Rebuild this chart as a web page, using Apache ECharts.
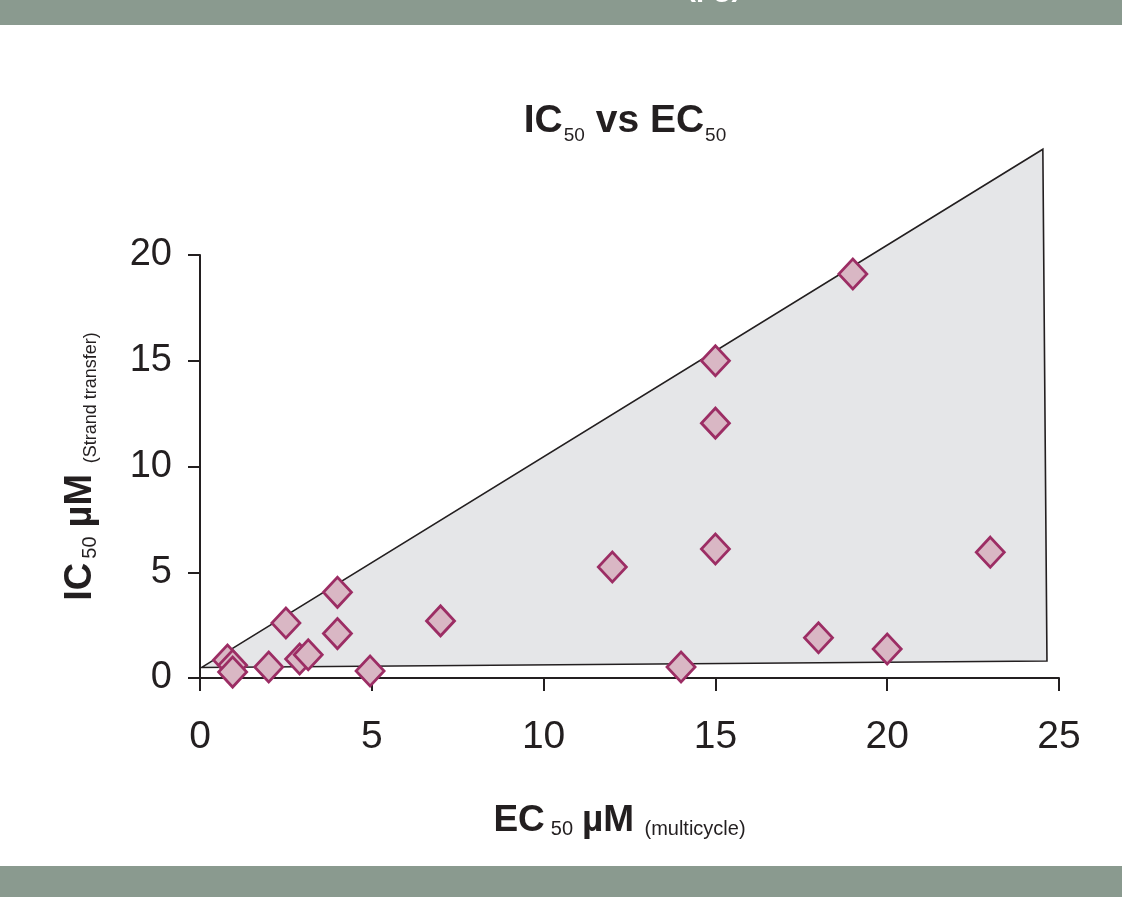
<!DOCTYPE html>
<html>
<head>
<meta charset="utf-8">
<style>
  html, body { margin: 0; padding: 0; background: #ffffff; }
  #chart { width: 1122px; height: 897px; }
</style>
<script src="https://cdn.jsdelivr.net/npm/echarts@6/dist/echarts.min.js"></script>
</head>
<body>
<div id="chart"></div>
<script>
// ---- data ----
const ec50 = [0.8, 0.95, 0.95, 2.0, 2.5, 2.9, 3.15, 4.0, 4.0, 4.95, 7.0, 12.0, 14.0, 15.0, 15.0, 15.0, 18.0, 19.0, 20.0, 23.0];
const ic50 = [0.85, 0.6, 0.28, 0.52, 2.6, 0.9, 1.1, 4.05, 2.1, 0.33, 2.7, 5.25, 0.52, 15.0, 12.05, 6.1, 1.9, 19.1, 1.37, 5.95];
const regionX = [0.05, 24.53, 24.65, 0.05];
const regionY = [0.5, 25.0, 0.8, 0.5];
const xTicks = [0, 5, 10, 15, 20, 25];
const yTicks = [0, 5, 10, 15, 20];

const font = '"Liberation Sans", Arial, Helvetica, sans-serif';
const points = ec50.map((x, i) => [x, ic50[i]]);

const chart = echarts.init(document.getElementById('chart'), null, { renderer: 'canvas' });
chart.setOption({
  backgroundColor: '#ffffff',
  animation: false,
  title: {
    text: '{a|IC}{s|50}{a| vs EC}{s|50}',
    left: 620,
    textAlign: 'center',
    top: 92,
    textStyle: {
      rich: {
        a: { fontFamily: font, fontSize: 39, fontWeight: 'bold', color: '#231f20', lineHeight: 44, verticalAlign: 'bottom' },
        s: { fontFamily: font, fontSize: 19, fontWeight: 'normal', color: '#231f20', lineHeight: 6, verticalAlign: 'bottom', padding: [0, 0, -4, 1] }
      }
    }
  },
  graphic: [
    { type: 'rect', left: 0, top: 0, shape: { x: 0, y: 0, width: 1122, height: 25 }, style: { fill: '#8a9a8f' }, z: 100 },
    { type: 'rect', left: 0, top: 866, shape: { x: 0, y: 0, width: 1122, height: 31 }, style: { fill: '#8a9a8f' }, z: 100 },
    { type: 'text', x: 686, y: -27, style: { text: '(µg)', fill: '#ffffff', font: 'bold 30px ' + font }, z: 101 }
  ],
  grid: { left: 200, right: 63, top: 255, bottom: 219, containLabel: false },
  xAxis: {
    type: 'value', min: 0, max: 25, interval: 5,
    name: '{a|EC}{n|50}{a|µM }{t|(multicycle)}',
    nameLocation: 'middle', nameGap: 117,
    nameTextStyle: {
      rich: {
        a: { fontFamily: font, fontSize: 37, fontWeight: 'bold', color: '#231f20', verticalAlign: 'bottom', lineHeight: 44 },
        n: { fontFamily: font, fontSize: 20, color: '#231f20', verticalAlign: 'bottom', lineHeight: 28, padding: [0, 9, 0, 6] },
        t: { fontFamily: font, fontSize: 20, color: '#231f20', verticalAlign: 'bottom', lineHeight: 27, padding: [0, 20, 0, 0] }
      }
    },
    axisLine: { show: true, lineStyle: { color: '#231f20', width: 2 } },
    axisTick: { show: true, length: 13, lineStyle: { color: '#231f20', width: 2 } },
    axisLabel: { margin: 40, fontFamily: font, fontSize: 39, color: '#231f20',
      formatter: v => xTicks.includes(v) ? String(v) : '' },
    splitLine: { show: false }
  },
  yAxis: {
    type: 'value', min: 0, max: 20, interval: 5,
    name: '{a|IC}{n|50}{a|µM }{t|(Strand transfer)}',
    nameLocation: 'middle', nameGap: 100, nameRotate: 90,
    nameTextStyle: {
      rich: {
        a: { fontFamily: font, fontSize: 38, fontWeight: 'bold', color: '#231f20', verticalAlign: 'bottom', lineHeight: 42 },
        n: { fontFamily: font, fontSize: 20, color: '#231f20', verticalAlign: 'bottom', lineHeight: 26, padding: [0, 9, 0, 4] },
        t: { fontFamily: font, fontSize: 18, color: '#231f20', verticalAlign: 'bottom', lineHeight: 23 }
      }
    },
    axisLine: { show: true, lineStyle: { color: '#231f20', width: 2 } },
    axisTick: { show: true, length: 12, lineStyle: { color: '#231f20', width: 2 } },
    axisLabel: { margin: 28, fontFamily: font, fontSize: 38, color: '#231f20',
      formatter: v => yTicks.includes(v) ? String(v) : '' },
    splitLine: { show: false }
  },
  series: [
    {
      type: 'custom',
      z: 1,
      clip: false,
      silent: true,
      data: [[0, 0]],
      renderItem: function (params, api) {
        const pts = regionX.map((x, i) => api.coord([x, regionY[i]]));
        return {
          type: 'polygon',
          shape: { points: pts },
          style: { fill: '#e5e6e8', stroke: '#231f20', lineWidth: 1.6 }
        };
      }
    },
    {
      type: 'scatter',
      z: 5,
      data: points,
      symbol: 'diamond',
      symbolSize: [28, 30],
      itemStyle: { color: '#d9b7c4', borderColor: '#9c2d64', borderWidth: 2.8, opacity: 1 }
    }
  ]
});
</script>
</body>
</html>
